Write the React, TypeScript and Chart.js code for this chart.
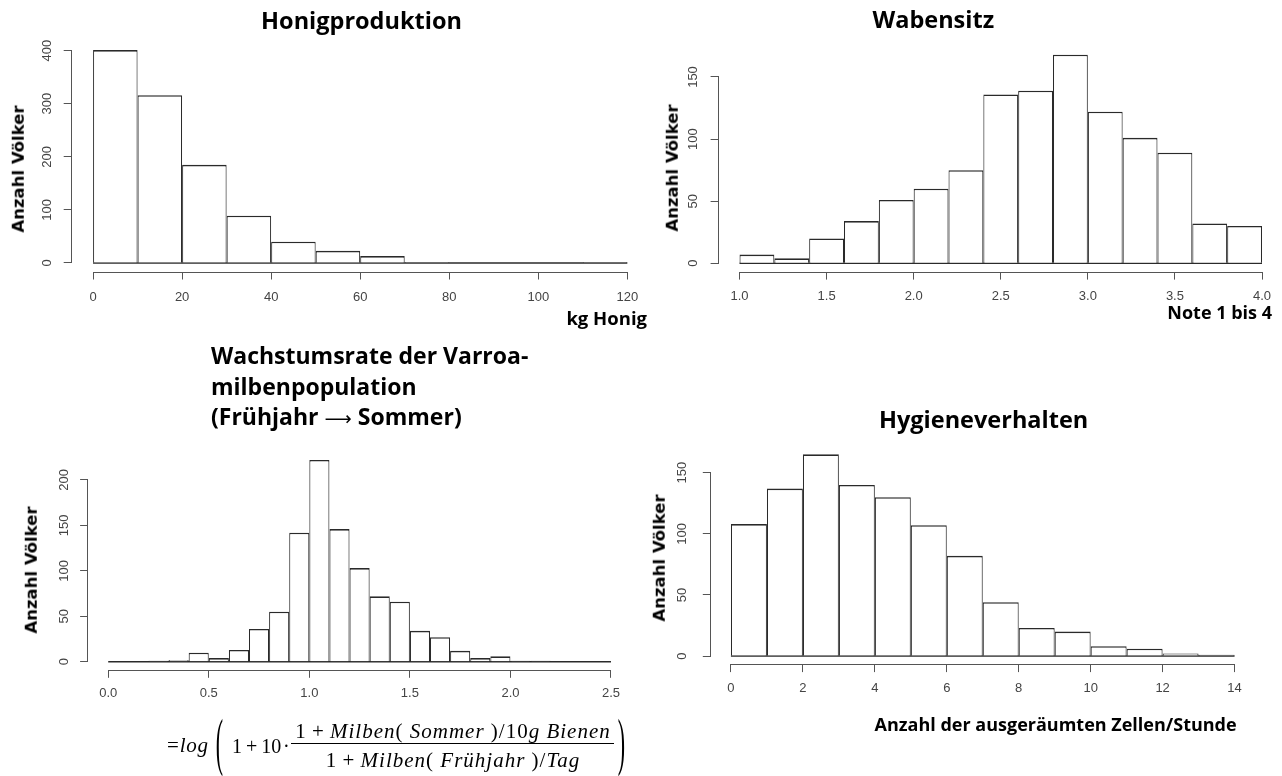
import React, { useEffect, useRef } from "react";
import { Chart, registerables } from "chart.js";

Chart.register(...registerables);

// ---------- Data ----------
// Honigproduktion (kg Honig)
const honigEdges = [0, 10, 20, 30, 40, 50, 60, 70, 80, 90, 100, 110, 120];
const honigCounts = [401, 316, 185, 89, 40, 23, 13, 2, 0, 0, 0, 2];
const honigXTicks = [0, 20, 40, 60, 80, 100, 120];
const honigYTicks = [0, 100, 200, 300, 400];

// Wabensitz (Note 1 bis 4)
const wabenEdges = [1.0, 1.2, 1.4, 1.6, 1.8, 2.0, 2.2, 2.4, 2.6, 2.8, 3.0, 3.2, 3.4, 3.6, 3.8, 4.0];
const wabenCounts = [7, 4, 20, 34, 51, 60, 75, 136, 139, 168, 122, 101, 89, 32, 30];
const wabenXTicks = [1.0, 1.5, 2.0, 2.5, 3.0, 3.5, 4.0];
const wabenYTicks = [0, 50, 100, 150];

// Wachstumsrate der Varroamilbenpopulation
const varroaEdges = [0.0, 0.1, 0.2, 0.3, 0.4, 0.5, 0.6, 0.7, 0.8, 0.9, 1.0, 1.1, 1.2, 1.3, 1.4, 1.5, 1.6, 1.7, 1.8, 1.9, 2.0, 2.1, 2.2, 2.3, 2.4, 2.5];
const varroaCounts = [0, 0, 1, 2, 10, 4, 13, 36, 55, 142, 222, 146, 103, 72, 66, 34, 27, 12, 4, 6, 1, 1, 0, 0, 0];
const varroaXTicks = [0.0, 0.5, 1.0, 1.5, 2.0, 2.5];
const varroaYTicks = [0, 50, 100, 150, 200];

// Hygieneverhalten (Zellen/Stunde)
const hygEdges = [0, 1, 2, 3, 4, 5, 6, 7, 8, 9, 10, 11, 12, 13, 14];
const hygCounts = [108, 137, 165, 140, 130, 107, 82, 44, 23, 20, 8, 6, 2, 1];
const hygXTicks = [0, 2, 4, 6, 8, 10, 12, 14];
const hygYTicks = [0, 50, 100, 150];

// ---------- Styles ----------
const BAR = "#2a2a2a";
const AXIS = "#555555";
const TICK = "#444444";
const CW = 1320;
const CH = 776;
const YW = 60;
const XH = 50;
const TITLE_FONT = "'Open Sans', 'Noto Sans', sans-serif";
const SERIF = "'Liberation Serif', 'Times New Roman', serif";

type Area = { left: number; top: number; right: number; bottom: number };

const rAxisPlugin = {
  id: "rAxis",
  afterDraw(chart: any) {
    const { ctx, chartArea, scales } = chart;
    const x = scales.x;
    const y = scales.y;
    const xt = x.ticks;
    const yt = y.ticks;
    ctx.save();
    ctx.strokeStyle = AXIS;
    ctx.lineWidth = 1;
    ctx.beginPath();
    const yb = Math.round(chartArea.bottom) + 0.5;
    ctx.moveTo(x.getPixelForValue(xt[0].value), yb);
    ctx.lineTo(x.getPixelForValue(xt[xt.length - 1].value), yb);
    const xl = Math.round(chartArea.left) - 0.5;
    ctx.moveTo(xl, y.getPixelForValue(yt[0].value));
    ctx.lineTo(xl, y.getPixelForValue(yt[yt.length - 1].value));
    ctx.stroke();
    ctx.restore();
  },
};

type HistProps = {
  edges: number[];
  counts: number[];
  xTicks: number[];
  yTicks: number[];
  decimals: number;
  area: Area;
  yPad: number;
  xPad: number;
};

function Histogram(p: HistProps) {
  const ref = useRef<HTMLCanvasElement>(null);
  useEffect(() => {
    const xmin = p.edges[0];
    const xmax = p.edges[p.edges.length - 1];
    const xr = xmax - xmin;
    const ymax = Math.max(...p.counts);
    const bars = p.counts.map((c, i) => ({ x: (p.edges[i] + p.edges[i + 1]) / 2, y: c }));
    const tickFont = { family: "'Liberation Sans', Arial, sans-serif", size: 13 };
    const chart = new Chart(ref.current as HTMLCanvasElement, {
      type: "bar",
      data: {
        datasets: [
          {
            type: "bar",
            data: bars as any,
            backgroundColor: "#ffffff",
            borderColor: BAR,
            borderWidth: { top: 1.6, left: 1.1, right: 1.1, bottom: 0 } as any,
            borderSkipped: "start",
            barPercentage: 1,
            categoryPercentage: 1,
            inflateAmount: 0,
            order: 1,
          } as any,
          {
            type: "line",
            data: [
              { x: xmin, y: 0 },
              { x: xmax, y: 0 },
            ] as any,
            borderColor: BAR,
            borderWidth: 1.5,
            pointRadius: 0,
            order: 2,
          } as any,
        ],
      },
      options: {
        responsive: false,
        animation: false,
        events: [],
        layout: {
          padding: {
            left: p.area.left - YW,
            top: p.area.top,
            right: CW - p.area.right,
            bottom: CH - p.area.bottom - XH,
          },
        },
        plugins: {
          legend: { display: false },
          tooltip: { enabled: false },
        },
        scales: {
          x: {
            type: "linear",
            offset: false,
            min: xmin - 0.04 * xr,
            max: xmax + 0.04 * xr,
            afterBuildTicks: (s: any) => {
              s.ticks = p.xTicks.map((v) => ({ value: v }));
            },
            afterFit: (s: any) => {
              s.height = XH;
            },
            border: { display: false },
            grid: {
              offset: false,
              drawOnChartArea: false,
              drawTicks: true,
              tickLength: 8,
              color: AXIS,
              lineWidth: 1,
            },
            ticks: {
              font: tickFont,
              color: TICK,
              padding: p.xPad,
              minRotation: 0,
              maxRotation: 0,
              autoSkip: false,
              callback: (v: any) => Number(v).toFixed(p.decimals),
            },
          },
          y: {
            type: "linear",
            min: -0.04 * ymax,
            max: 1.04 * ymax,
            afterBuildTicks: (s: any) => {
              s.ticks = p.yTicks.map((v) => ({ value: v }));
            },
            afterFit: (s: any) => {
              s.width = YW;
            },
            border: { display: false },
            grid: {
              drawOnChartArea: false,
              drawTicks: true,
              tickLength: 8,
              color: AXIS,
              lineWidth: 1,
            },
            ticks: {
              font: tickFont,
              color: TICK,
              padding: p.yPad,
              minRotation: 90,
              maxRotation: 90,
              crossAlign: "center",
              autoSkip: false,
              callback: (v: any) => String(v),
            },
          },
        },
      } as any,
      plugins: [rAxisPlugin],
    });
    return () => chart.destroy();
  }, []);
  return (
    <canvas
      ref={ref}
      width={CW}
      height={CH}
      style={{ position: "absolute", left: 0, top: 0, width: CW, height: CH }}
    />
  );
}

function Title(props: { text: string; cx: number; top: number; size?: number }) {
  return (
    <div
      style={{
        position: "absolute",
        left: props.cx,
        top: props.top,
        transform: "translateX(-50%)",
        fontFamily: TITLE_FONT,
        fontWeight: 700,
        fontSize: props.size || 23.5,
        lineHeight: 1,
        whiteSpace: "nowrap",
        color: "#000",
      }}
    >
      {props.text}
    </div>
  );
}

function RightText(props: { text: string; right: number; top: number; size: number }) {
  return (
    <div
      style={{
        position: "absolute",
        left: props.right,
        top: props.top,
        transform: "translateX(-100%)",
        fontFamily: TITLE_FONT,
        fontWeight: 700,
        fontSize: props.size,
        lineHeight: 1,
        whiteSpace: "nowrap",
        color: "#000",
      }}
    >
      {props.text}
    </div>
  );
}

function YLabel(props: { cx: number; cy: number }) {
  return (
    <div
      style={{
        position: "absolute",
        left: props.cx,
        top: props.cy,
        transform: "translate(-50%, -50%) rotate(-90deg)",
        fontFamily: "'DejaVu Sans', sans-serif",
        fontWeight: 700,
        fontSize: 16.5,
        lineHeight: 1,
        whiteSpace: "nowrap",
        color: "#000",
      }}
    >
      Anzahl Völker
    </div>
  );
}

function SerifText(props: {
  left: number;
  baseline: number;
  size?: number;
  spacing?: number;
  children: any;
  width?: number;
  center?: boolean;
}) {
  const size = props.size || 20;
  return (
    <div
      style={{
        position: "absolute",
        left: props.left,
        top: props.baseline - 0.8375 * size,
        width: props.width,
        textAlign: props.center ? "center" : "left",
        fontFamily: SERIF,
        fontSize: size,
        letterSpacing: props.spacing || 0,
        lineHeight: 1,
        whiteSpace: "nowrap",
        color: "#000",
      }}
    >
      {props.children}
    </div>
  );
}

function BigParen(props: { left: number; ch: string }) {
  return (
    <div
      style={{
        position: "absolute",
        left: props.left,
        top: 734.6,
        fontFamily: SERIF,
        fontSize: 20,
        lineHeight: 1,
        transform: "scale(1.1, 3.2)",
        transformOrigin: "50% 60%",
        color: "#000",
      }}
    >
      {props.ch}
    </div>
  );
}

function Formula() {
  const it = { fontStyle: "italic" as const };
  return (
    <>
      <SerifText left={167} baseline={753} size={21} spacing={0.8}>
        =<span style={it}>log</span>
      </SerifText>
      <BigParen left={216} ch="(" />
      <SerifText left={232} baseline={753} size={20}>
        1{"\u2009"}+{"\u2009"}10{"\u200A"}·
      </SerifText>
      <SerifText left={291} baseline={739} width={324} center size={21} spacing={1}>
        1{"\u2009"}+{"\u2009"}<span style={it}>Milben</span>(<span style={it}> Sommer </span>)/10<span style={it}>g Bienen</span>
      </SerifText>
      <div
        style={{
          position: "absolute",
          left: 291,
          top: 742.5,
          width: 323,
          height: 1,
          background: "#000",
        }}
      />
      <SerifText left={291} baseline={768} width={324} center size={21} spacing={1}>
        1{"\u2009"}+{"\u2009"}<span style={it}>Milben</span>(<span style={it}> Frühjahr </span>)/<span style={it}>Tag</span>
      </SerifText>
      <BigParen left={618} ch=")" />
    </>
  );
}

export default function App() {
  return (
    <div
      style={{
        position: "fixed",
        left: 0,
        top: 0,
        width: 1282,
        height: 776,
        overflow: "hidden",
        background: "#ffffff",
      }}
    >
      <Histogram
        edges={honigEdges}
        counts={honigCounts}
        xTicks={honigXTicks}
        yTicks={honigYTicks}
        decimals={0}
        area={{ left: 71.7, top: 41.6, right: 648.7, bottom: 271.5 }}
        yPad={5}
        xPad={10}
      />
      <Histogram
        edges={wabenEdges}
        counts={wabenCounts}
        xTicks={wabenXTicks}
        yTicks={wabenYTicks}
        decimals={1}
        area={{ left: 718.6, top: 46.3, right: 1282.9, bottom: 271.6 }}
        yPad={6}
        xPad={9}
      />
      <Histogram
        edges={varroaEdges}
        counts={varroaCounts}
        xTicks={varroaXTicks}
        yTicks={varroaYTicks}
        decimals={1}
        area={{ left: 88.1, top: 451.9, right: 631.1, bottom: 669.8 }}
        yPad={5}
        xPad={8}
      />
      <Histogram
        edges={hygEdges}
        counts={hygCounts}
        xTicks={hygXTicks}
        yTicks={hygYTicks}
        decimals={0}
        area={{ left: 710.8, top: 446.3, right: 1254.7, bottom: 664.1 }}
        yPad={10}
        xPad={9}
      />

      <Title text="Honigproduktion" cx={361.5} top={8.5} />
      <Title text="Wabensitz" cx={933.3} top={7.5} />
      <Title text="Hygieneverhalten" cx={983.6} top={407.5} />
      <div
        style={{
          position: "absolute",
          left: 211,
          top: 340.1,
          fontFamily: TITLE_FONT,
          fontWeight: 700,
          fontSize: 23,
          lineHeight: "30.6px",
          whiteSpace: "nowrap",
          color: "#000",
        }}
      >
        <div>Wachstumsrate der Varroa-</div>
        <div>milbenpopulation</div>
        <div>
          (Frühjahr{" "}
          <span style={{ fontFamily: "'DejaVu Sans', sans-serif", fontWeight: 400, fontSize: 19 }}>⟶</span>{" "}
          Sommer)
        </div>
      </div>

      <RightText text="kg Honig" right={647} top={308.5} size={18.5} />
      <RightText text="Note 1 bis 4" right={1272} top={303.3} size={18} />
      <Title text="Anzahl der ausgeräumten Zellen/Stunde" cx={1055.6} top={714.7} size={18} />

      <YLabel cx={19.2} cy={168.5} />
      <YLabel cx={673} cy={168} />
      <YLabel cx={31.6} cy={570} />
      <YLabel cx={659.6} cy={558} />

      <Formula />
    </div>
  );
}
